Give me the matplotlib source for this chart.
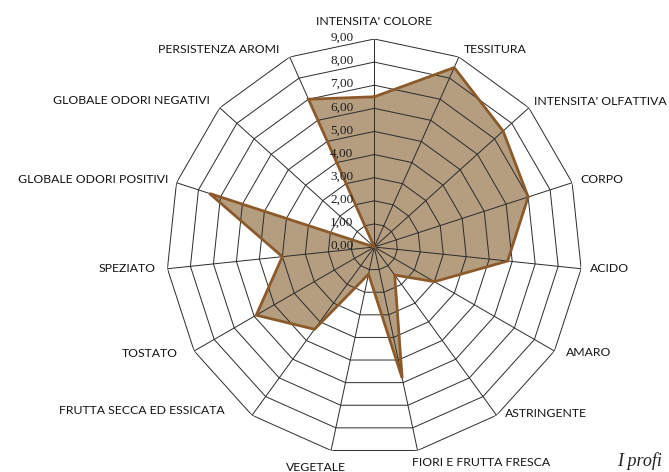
import numpy as np
import matplotlib
matplotlib.use("Agg")
import matplotlib.pyplot as plt

categories = [
    "INTENSITA' COLORE", "TESSITURA", "INTENSITA' OLFATTIVA", "CORPO", "ACIDO",
    "AMARO", "ASTRINGENTE", "FIORI E FRUTTA FRESCA", "VEGETALE",
    "FRUTTA SECCA ED ESSICATA", "TOSTATO", "SPEZIATO",
    "GLOBALE ODORI POSITIVI", "GLOBALE ODORI NEGATIVI", "PERSISTENZA AROMI",
]
values = [6.5, 8.5, 7.5, 7.0, 5.8, 3.0, 1.5, 5.8, 1.2, 4.4, 5.9, 4.0, 7.5, 0.0, 7.0]
ring_levels = [0, 1, 2, 3, 4, 5, 6, 7, 8, 9]
ring_labels = ["0,00", "1,00", "2,00", "3,00", "4,00", "5,00", "6,00", "7,00", "8,00", "9,00"]

# label placement (offset in pixels from the outer vertex, alignment)
label_style = [
    (0, 18, "center"), (5, 7, "left"), (5, 6, "left"), (8, 3, "left"), (9, 0, "left"),
    (12, -2, "left"), (8, 2, "left"), (-6, -12, "left"), (-15, -17, "center"),
    (-27, 5, "right"), (-16, -2, "right"), (-12, 0, "right"), (-8, 3, "right"),
    (-10, 7, "right"), (-10, 7, "right"),
]

label_font = ["Liberation Sans Narrow", "Lato", "DejaVu Sans"]

fig = plt.figure(figsize=(6.69, 4.72), dpi=100)
W, H = 669, 472
cx, cy, R = 374.3, 247.0, 208.0
ax = fig.add_axes([(cx - R) / W, (H - cy - R) / H, 2 * R / W, 2 * R / H], projection="polar")
ax.set_theta_zero_location("N")
ax.set_theta_direction(-1)
ax.set_ylim(0, max(ring_levels))
ax.grid(False)
ax.spines["polar"].set_visible(False)
ax.set_xticks([])
ax.set_yticks([])
ax.patch.set_alpha(0)

n = len(categories)
theta = np.arange(n) * 2 * np.pi / n
tc = np.append(theta, theta[0])
vc = np.append(values, values[0])

# data polygon
ax.fill(tc, vc, color="#b59d80", zorder=1, lw=0)

# grid rings and spokes
for lvl in ring_levels[1:]:
    ax.plot(tc, [lvl] * (n + 1), color="#2b2b2b", lw=0.7, zorder=2)
for t in theta:
    ax.plot([t, t], [0, max(ring_levels)], color="#2b2b2b", lw=0.7, zorder=2)

ax.plot(tc, vc, color="#8c5a2a", lw=2.0, zorder=3, solid_joinstyle="miter")

# ring value labels
for lvl, txt in zip(ring_levels, ring_labels):
    ax.annotate(txt, xy=(0, lvl), xytext=(-21, 1), textcoords="offset pixels",
                ha="right", va="center", fontsize=9.5, family="Liberation Serif",
                color="#1e1e1e", annotation_clip=False)

# category labels
for t, lab, (dx, dy, ha) in zip(theta, categories, label_style):
    ax.annotate(lab, xy=(t, max(ring_levels)), xytext=(dx, dy), textcoords="offset pixels",
                ha=ha, va="center", fontsize=8.8, family=label_font,
                color="#141414", annotation_clip=False)

fig.text(617 / W, 1 - 461 / H, "I profi", fontsize=13, family="Liberation Serif",
         style="italic", ha="left", va="center", color="#222222")

fig.savefig("out.png", dpi=100)
